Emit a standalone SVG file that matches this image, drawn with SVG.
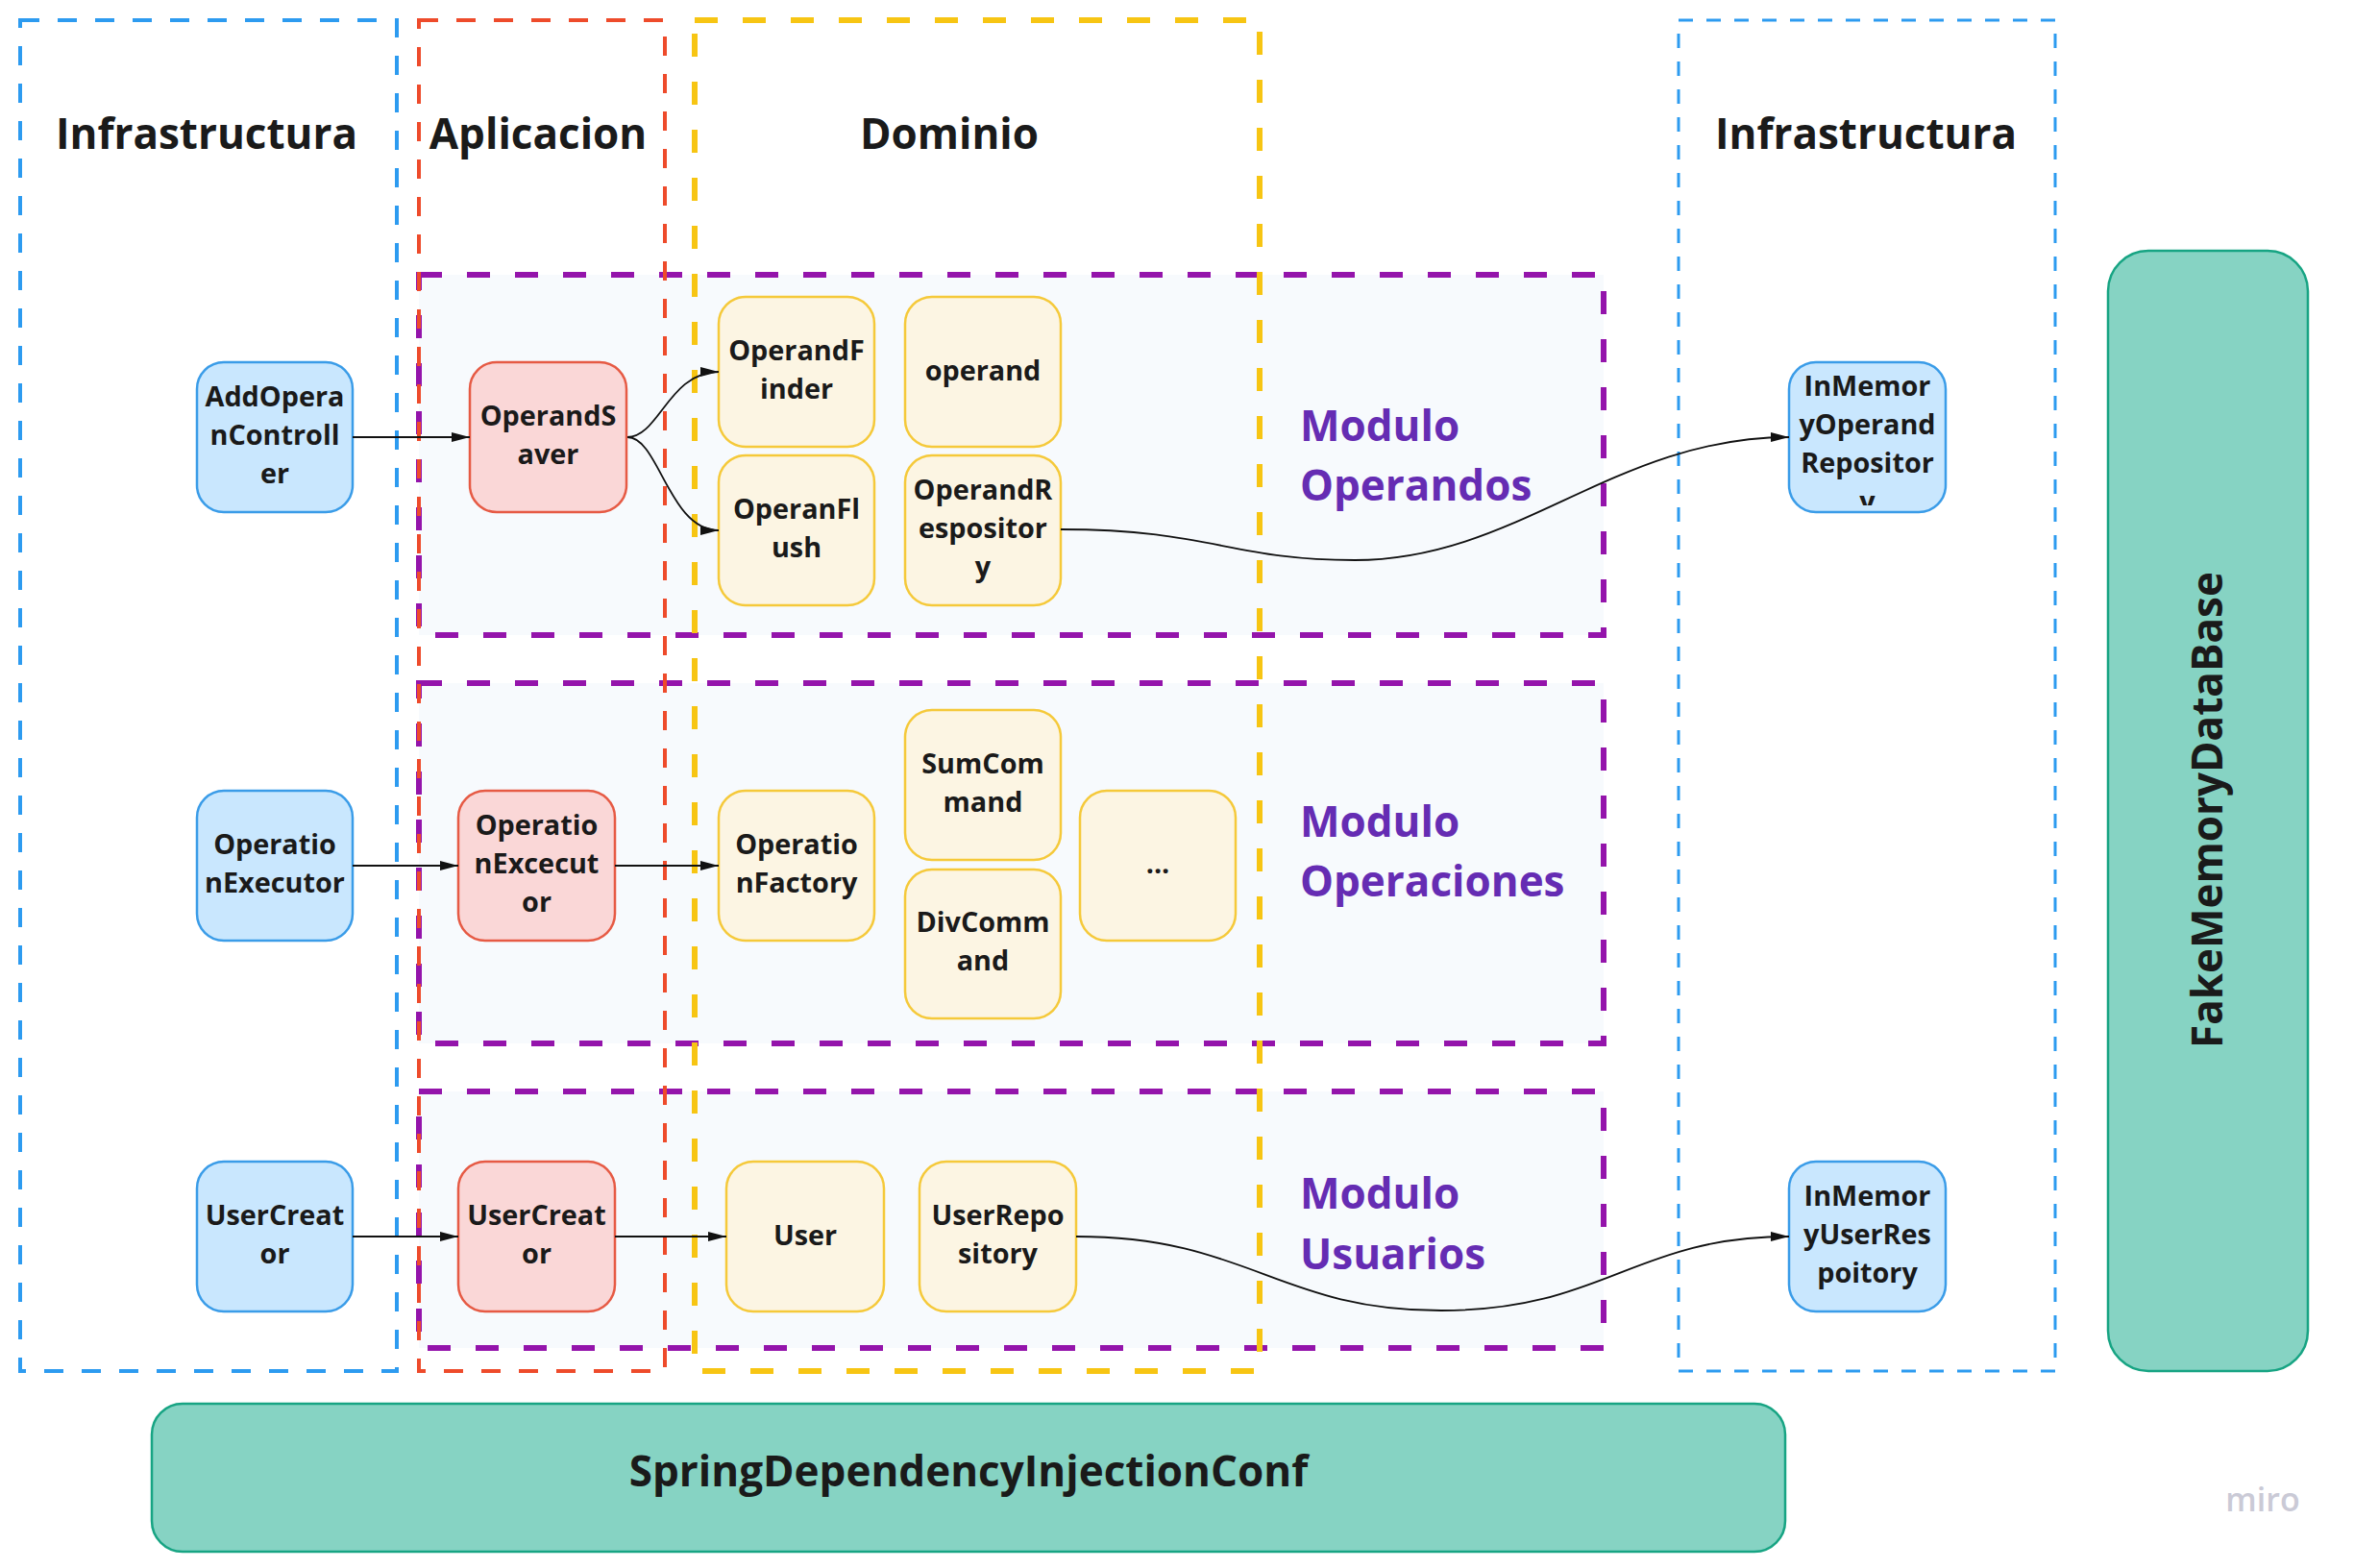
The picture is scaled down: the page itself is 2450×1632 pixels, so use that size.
<svg xmlns="http://www.w3.org/2000/svg" width="2450" height="1632" viewBox="0 0 2450 1632">
<style>
text{font-family:"Open Sans","Noto Sans","DejaVu Sans",sans-serif;font-weight:700}
.hdr{font-size:44px;fill:#1a1a1a;text-anchor:middle}
.mod{font-size:44px;fill:#652cb3}
.nt{font-size:28.8px;fill:#1a1a1a;text-anchor:middle}
.frameB{fill:none;stroke:#2d9bf0;stroke-width:4;stroke-dasharray:20 19}
.frameB2{fill:none;stroke:#2d9bf0;stroke-width:3;stroke-dasharray:15 14}
.frameR{fill:none;stroke:#ee4b2b;stroke-width:4;stroke-dasharray:20 19}
.frameY{fill:none;stroke:#f7c513;stroke-width:6;stroke-dasharray:24 26}
.module{fill:#f7fafd;stroke:#9414ab;stroke-width:6;stroke-dasharray:24 26}
.nb{fill:#c9e7fe;stroke:#3a9ce8;stroke-width:2.5}
.nr{fill:#fad7d7;stroke:#e65a44;stroke-width:2.5}
.ny{fill:#fcf5e3;stroke:#f5c93a;stroke-width:2.5}
.ng{fill:#86d3c3;stroke:#17a483;stroke-width:2.5}
.edge{fill:none;stroke:#111;stroke-width:1.8;marker-end:url(#arr)}
</style>
<defs>
<marker id="arr" markerUnits="userSpaceOnUse" markerWidth="20" markerHeight="12" refX="19" refY="5" orient="auto">
<path d="M0,0 L19,5 L0,10 Z" fill="#111"/>
</marker>
<clipPath id="clipIMO"><rect x="1864" y="379" width="159" height="147" rx="26"/></clipPath>
</defs>
<rect width="2450" height="1632" fill="#ffffff"/>

<g id="modulo-operandos">
<rect class="module" x="436" y="286" width="1233" height="375"/>
</g>
<g id="modulo-operaciones">
<rect class="module" x="436" y="711" width="1233" height="375"/>
</g>
<g id="modulo-usuarios">
<rect class="module" x="436" y="1136" width="1233" height="267"/>
</g>

<g id="frame-infra-left">
<rect class="frameB" x="21" y="21" width="392" height="1406"/>
<text class="hdr" x="215" y="155">Infrastructura</text>
</g>
<g id="frame-aplicacion">
<rect class="frameR" x="436" y="21" width="256" height="1406"/>
<text class="hdr" x="560" y="155">Aplicacion</text>
</g>
<g id="frame-dominio">
<rect class="frameY" x="723" y="21" width="588" height="1406"/>
<text class="hdr" x="988" y="155">Dominio</text>
</g>
<g id="frame-infra-right">
<rect class="frameB2" x="1747" y="21" width="392" height="1406"/>
<text class="hdr" x="1942" y="155">Infrastructura</text>
</g>

<g id="labels-modulos">
<text class="mod" x="1353" y="459">Modulo</text>
<text class="mod" x="1353" y="521">Operandos</text>
<text class="mod" x="1353" y="871">Modulo</text>
<text class="mod" x="1353" y="933">Operaciones</text>
<text class="mod" x="1353" y="1258">Modulo</text>
<text class="mod" x="1353" y="1321">Usuarios</text>
</g>

<g id="AddOperanController">
<rect class="nb" x="205" y="377" width="162" height="156" rx="28"/>
<text class="nt" x="286" y="423">AddOpera</text>
<text class="nt" x="286" y="463">nControll</text>
<text class="nt" x="286" y="503">er</text>
</g>
<g id="OperandSaver">
<rect class="nr" x="489" y="377" width="163" height="156" rx="28"/>
<text class="nt" x="570.5" y="443">OperandS</text>
<text class="nt" x="570.5" y="483">aver</text>
</g>
<g id="OperandFinder">
<rect class="ny" x="748" y="309" width="162" height="156" rx="28"/>
<text class="nt" x="829" y="375">OperandF</text>
<text class="nt" x="829" y="415">inder</text>
</g>
<g id="operand">
<rect class="ny" x="942" y="309" width="162" height="156" rx="28"/>
<text class="nt" x="1023" y="396">operand</text>
</g>
<g id="OperanFlush">
<rect class="ny" x="748" y="474" width="162" height="156" rx="28"/>
<text class="nt" x="829" y="540">OperanFl</text>
<text class="nt" x="829" y="580">ush</text>
</g>
<g id="OperandRespository">
<rect class="ny" x="942" y="474" width="162" height="156" rx="28"/>
<text class="nt" x="1023" y="520">OperandR</text>
<text class="nt" x="1023" y="560">espositor</text>
<text class="nt" x="1023" y="600">y</text>
</g>
<g id="InMemoryOperandRepository">
<rect class="nb" x="1862" y="377" width="163" height="156" rx="28"/>
<g clip-path="url(#clipIMO)">
<text class="nt" x="1943.5" y="412">InMemor</text>
<text class="nt" x="1943.5" y="452">yOperand</text>
<text class="nt" x="1943.5" y="492">Repositor</text>
<text class="nt" x="1943.5" y="532">y</text>
</g>
</g>

<g id="OperationExecutor">
<rect class="nb" x="205" y="823" width="162" height="156" rx="28"/>
<text class="nt" x="286" y="889">Operatio</text>
<text class="nt" x="286" y="929">nExecutor</text>
</g>
<g id="OperationExcecutor">
<rect class="nr" x="477" y="823" width="163" height="156" rx="28"/>
<text class="nt" x="558.5" y="869">Operatio</text>
<text class="nt" x="558.5" y="909">nExcecut</text>
<text class="nt" x="558.5" y="949">or</text>
</g>
<g id="OperationFactory">
<rect class="ny" x="748" y="823" width="162" height="156" rx="28"/>
<text class="nt" x="829" y="889">Operatio</text>
<text class="nt" x="829" y="929">nFactory</text>
</g>
<g id="SumCommand">
<rect class="ny" x="942" y="739" width="162" height="156" rx="28"/>
<text class="nt" x="1023" y="805">SumCom</text>
<text class="nt" x="1023" y="845">mand</text>
</g>
<g id="DivCommand">
<rect class="ny" x="942" y="905" width="162" height="155" rx="28"/>
<text class="nt" x="1023" y="970">DivComm</text>
<text class="nt" x="1023" y="1010">and</text>
</g>
<g id="more-commands">
<rect class="ny" x="1124" y="823" width="162" height="156" rx="28"/>
<text class="nt" x="1205" y="909">...</text>
</g>

<g id="UserCreator-infra">
<rect class="nb" x="205" y="1209" width="162" height="156" rx="28"/>
<text class="nt" x="286" y="1275">UserCreat</text>
<text class="nt" x="286" y="1315">or</text>
</g>
<g id="UserCreator-app">
<rect class="nr" x="477" y="1209" width="163" height="156" rx="28"/>
<text class="nt" x="558.5" y="1275">UserCreat</text>
<text class="nt" x="558.5" y="1315">or</text>
</g>
<g id="User">
<rect class="ny" x="756" y="1209" width="164" height="156" rx="28"/>
<text class="nt" x="838" y="1296">User</text>
</g>
<g id="UserRepository">
<rect class="ny" x="957" y="1209" width="163" height="156" rx="28"/>
<text class="nt" x="1038.5" y="1275">UserRepo</text>
<text class="nt" x="1038.5" y="1315">sitory</text>
</g>
<g id="InMemoryUserRespoitory">
<rect class="nb" x="1862" y="1209" width="163" height="156" rx="28"/>
<text class="nt" x="1943.5" y="1255">InMemor</text>
<text class="nt" x="1943.5" y="1295">yUserRes</text>
<text class="nt" x="1943.5" y="1335">poitory</text>
</g>

<g id="FakeMemoryDataBase">
<rect class="ng" x="2194" y="261" width="208" height="1166" rx="42"/>
<text class="hdr" transform="translate(2313,843) rotate(-90)" x="0" y="0">FakeMemoryDataBase</text>
</g>
<g id="SpringDependencyInjectionConf">
<rect class="ng" x="158" y="1461" width="1700" height="154" rx="32"/>
<text class="hdr" x="1008" y="1547">SpringDependencyInjectionConf</text>
</g>

<g id="connectors">
<path class="edge" d="M367,455 L489,455"/>
<path class="edge" d="M653,455 C686,455 696,387 748,387"/>
<path class="edge" d="M653,455 C686,455 696,552 748,552"/>
<path class="edge" d="M1104,551 C1260,551 1280,583 1410,583 C1580,583 1680,455 1862,455"/>
<path class="edge" d="M367,901 L477,901"/>
<path class="edge" d="M640,901 L748,901"/>
<path class="edge" d="M367,1287 L477,1287"/>
<path class="edge" d="M640,1287 L756,1287"/>
<path class="edge" d="M1120,1287 C1300,1287 1330,1364 1500,1364 C1670,1364 1700,1287 1862,1287"/>
</g>

<text x="2355" y="1573" style="font-size:34px;font-weight:600;fill:#cacad6;text-anchor:middle">miro</text>
</svg>
